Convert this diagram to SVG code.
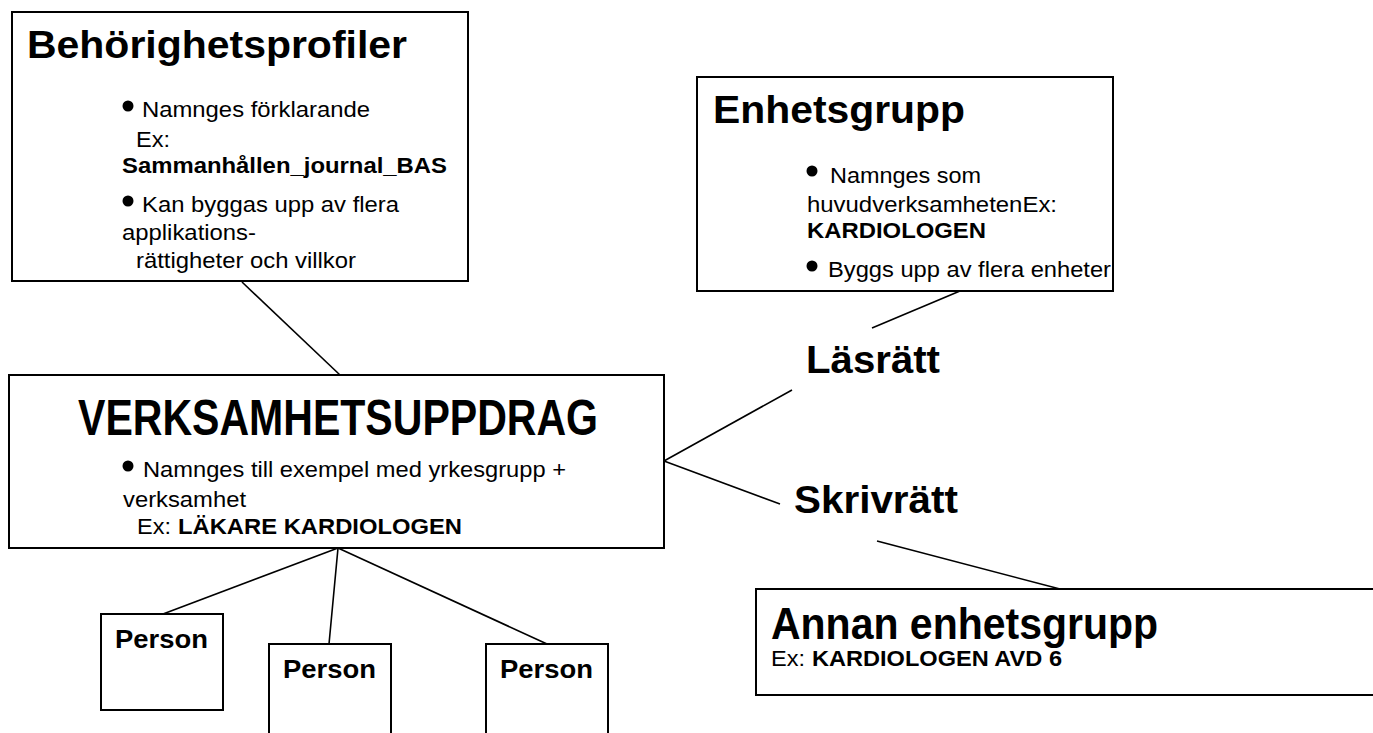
<svg xmlns="http://www.w3.org/2000/svg" width="1373" height="733" viewBox="0 0 1373 733">
  <style>
    .box { fill: #ffffff; stroke: #000000; stroke-width: 2; }
    .link { stroke: #000000; stroke-width: 1.6; fill: none; }
    .title { font-family: "Liberation Sans", Arial, sans-serif; font-weight: bold; fill: #000; }
    .body { font-family: "Liberation Sans", Arial, sans-serif; font-size: 21.5px; fill: #000; }
    .b { font-weight: bold; }
    .dot { fill: #000; }
  </style>
  <rect width="1373" height="733" fill="#ffffff"/>

  <!-- connectors -->
  <g id="connectors">
    <line class="link" x1="242" y1="282" x2="340" y2="375"/>
    <line class="link" x1="960" y1="291" x2="872" y2="328"/>
    <line class="link" x1="664" y1="461" x2="792" y2="390"/>
    <line class="link" x1="664" y1="461" x2="780" y2="504"/>
    <line class="link" x1="877" y1="541" x2="1060" y2="589"/>
    <line class="link" x1="338" y1="548" x2="163" y2="614"/>
    <line class="link" x1="338" y1="548" x2="329" y2="644"/>
    <line class="link" x1="338" y1="548" x2="547" y2="644"/>
  </g>

  <g id="behorighetsprofiler">
    <rect class="box" x="12" y="12" width="456" height="269"/>
    <text class="title" x="27" y="58" font-size="38" textLength="380" lengthAdjust="spacingAndGlyphs">Behörighetsprofiler</text>
    <circle class="dot" cx="128" cy="106" r="5.5"/>
    <text class="body" x="142" y="117" textLength="228" lengthAdjust="spacingAndGlyphs">Namnges förklarande</text>
    <text class="body" x="136" y="147" textLength="34" lengthAdjust="spacingAndGlyphs">Ex:</text>
    <text class="body b" x="122" y="173" textLength="325" lengthAdjust="spacingAndGlyphs">Sammanhållen_journal_BAS</text>
    <circle class="dot" cx="128" cy="201" r="5.5"/>
    <text class="body" x="142" y="212" textLength="257" lengthAdjust="spacingAndGlyphs">Kan byggas upp av flera</text>
    <text class="body" x="122" y="240" textLength="134" lengthAdjust="spacingAndGlyphs">applikations-</text>
    <text class="body" x="136" y="268" textLength="220" lengthAdjust="spacingAndGlyphs">rättigheter och villkor</text>
  </g>

  <g id="enhetsgrupp">
    <rect class="box" x="697" y="77" width="416" height="214"/>
    <text class="title" x="713" y="123" font-size="38" textLength="252" lengthAdjust="spacingAndGlyphs">Enhetsgrupp</text>
    <circle class="dot" cx="812" cy="171" r="5.5"/>
    <text class="body" x="830" y="183" textLength="151" lengthAdjust="spacingAndGlyphs">Namnges som</text>
    <text class="body" x="807" y="212" textLength="250" lengthAdjust="spacingAndGlyphs">huvudverksamhetenEx:</text>
    <text class="body b" x="807" y="238" textLength="179" lengthAdjust="spacingAndGlyphs">KARDIOLOGEN</text>
    <circle class="dot" cx="812" cy="266" r="5.5"/>
    <text class="body" x="828" y="277" textLength="283" lengthAdjust="spacingAndGlyphs">Byggs upp av flera enheter</text>
  </g>

  <g id="verksamhetsuppdrag">
    <rect class="box" x="9" y="375" width="655" height="173"/>
    <text class="title" x="78" y="435" font-size="50" textLength="520" lengthAdjust="spacingAndGlyphs">VERKSAMHETSUPPDRAG</text>
    <circle class="dot" cx="128" cy="466" r="5.5"/>
    <text class="body" x="143" y="477" textLength="423" lengthAdjust="spacingAndGlyphs">Namnges till exempel med yrkesgrupp +</text>
    <text class="body" x="123" y="507" textLength="123" lengthAdjust="spacingAndGlyphs">verksamhet</text>
    <text class="body" x="137" y="534" textLength="34" lengthAdjust="spacingAndGlyphs">Ex:</text>
    <text class="body b" x="178" y="534" textLength="284" lengthAdjust="spacingAndGlyphs">LÄKARE KARDIOLOGEN</text>
  </g>

  <g id="lasratt">
    <text class="title" x="806" y="373" font-size="39" textLength="134" lengthAdjust="spacingAndGlyphs">Läsrätt</text>
  </g>

  <g id="skrivratt">
    <text class="title" x="794" y="513" font-size="39" textLength="164" lengthAdjust="spacingAndGlyphs">Skrivrätt</text>
  </g>

  <g id="annan-enhetsgrupp">
    <rect class="box" x="756" y="589" width="630" height="106"/>
    <text class="title" x="771" y="639" font-size="44" textLength="387" lengthAdjust="spacingAndGlyphs">Annan enhetsgrupp</text>
    <text class="body" x="771" y="666" font-size="22" textLength="34" lengthAdjust="spacingAndGlyphs">Ex:</text>
    <text class="body b" x="812" y="666" font-size="22" textLength="250" lengthAdjust="spacingAndGlyphs">KARDIOLOGEN AVD 6</text>
  </g>

  <g id="person-1">
    <rect class="box" x="101" y="614" width="122" height="96"/>
    <text class="title" x="115" y="648" font-size="25" textLength="93" lengthAdjust="spacingAndGlyphs">Person</text>
  </g>

  <g id="person-2">
    <rect class="box" x="269" y="644" width="122" height="100"/>
    <text class="title" x="283" y="678" font-size="25" textLength="93" lengthAdjust="spacingAndGlyphs">Person</text>
  </g>

  <g id="person-3">
    <rect class="box" x="486" y="644" width="122" height="100"/>
    <text class="title" x="500" y="678" font-size="25" textLength="93" lengthAdjust="spacingAndGlyphs">Person</text>
  </g>
</svg>
